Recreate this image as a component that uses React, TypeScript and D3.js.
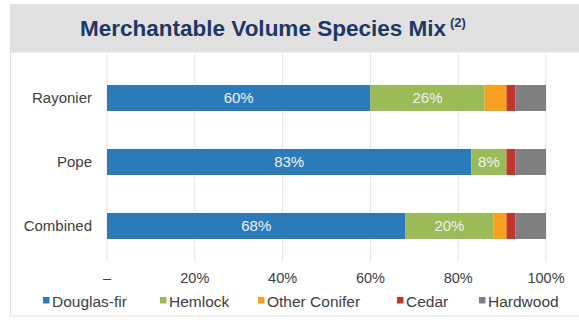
import React from "react";
import * as d3 from "d3";

const categories = ["Rayonier", "Pope", "Combined"];
const seriesNames = ["Douglas-fir", "Hemlock", "Other Conifer", "Cedar", "Hardwood"];
const douglasFir = [60, 83, 68];
const hemlock = [26, 8, 20];
const otherConifer = [5, 0, 3];
const cedar = [2, 2, 2];
const hardwood = [7, 7, 7];
const tickValues = [0, 20, 40, 60, 80, 100];
const tickLabels = ["–", "20%", "40%", "60%", "80%", "100%"];
const colors = ["#2b7bba", "#9bbb59", "#f5a01e", "#c0362c", "#7f7f7f"];
const legendX = [43, 160, 258, 397, 479];

const W = 579;
const H = 320;
const FONT = "'Liberation Sans', Arial, sans-serif";

export default function App() {
  const series = [douglasFir, hemlock, otherConifer, cedar, hardwood];
  const rows = categories.map((c, i) => {
    const o: any = { cat: c };
    seriesNames.forEach((s, j) => (o[s] = series[j][i]));
    return o;
  });
  const stacked = d3.stack().keys(seriesNames)(rows as any);
  const x = d3.scaleLinear().domain([0, 100]).range([107, 546]);
  const y = d3
    .scaleBand()
    .domain(categories)
    .range([47, 277])
    .paddingInner(0.594)
    .paddingOuter(0.594);
  const bw = y.bandwidth();

  return (
    <svg
      width={W}
      height={H}
      style={{ position: "absolute", left: 0, top: 0, background: "#fff" }}
      fontFamily={FONT}
    >
      <rect x={10.5} y={52} width={W} height={264} fill="#fff" stroke="#e2e2e2" />
      <rect x={10} y={4} width={W - 10} height={48} fill="#e1e1e1" />
      <text x={80} y={36} fontSize={22.5} fontWeight="bold" fill="#1e3764">
        Merchantable Volume Species Mix
        <tspan fontSize={13} dy={-9} dx={4}>(2)</tspan>
      </text>
      {tickValues.map((t, i) => (
        <g key={t}>
          <line x1={x(t)} x2={x(t)} y1={54} y2={262} stroke="#e3e3e3" strokeWidth={1} />
          <text x={x(t)} y={283} textAnchor="middle" fontSize={14.5} fill="#404040">
            {tickLabels[i]}
          </text>
        </g>
      ))}
      {categories.map((c) => (
        <text
          key={c}
          x={92}
          y={(y(c) as number) + bw / 2}
          dy="0.35em"
          textAnchor="end"
          fontSize={15}
          fill="#404040"
        >
          {c}
        </text>
      ))}
      {stacked.map((s, j) => (
        <g key={s.key}>
          {s.map((d: any, i: number) => {
            const x0 = x(d[0]);
            const x1 = x(d[1]);
            const v = d[1] - d[0];
            return (
              <g key={i}>
                {v > 0 && (
                  <rect
                    x={x0}
                    y={y(categories[i])}
                    width={x1 - x0}
                    height={bw}
                    fill={colors[j]}
                  />
                )}
                {v >= 8 && j < 2 && (
                  <text
                    x={(x0 + x1) / 2}
                    y={(y(categories[i]) as number) + bw / 2}
                    dy="0.35em"
                    textAnchor="middle"
                    fontSize={15}
                    fill="#eef2f6"
                  >
                    {v}%
                  </text>
                )}
              </g>
            );
          })}
        </g>
      ))}
      {seriesNames.map((s, j) => (
        <g key={s}>
          <rect x={legendX[j]} y={297} width={6.5} height={6.5} fill={colors[j]} />
          <text x={legendX[j] + 9} y={301} dy="0.36em" fontSize={15.5} fill="#404040">
            {s}
          </text>
        </g>
      ))}
    </svg>
  );
}
